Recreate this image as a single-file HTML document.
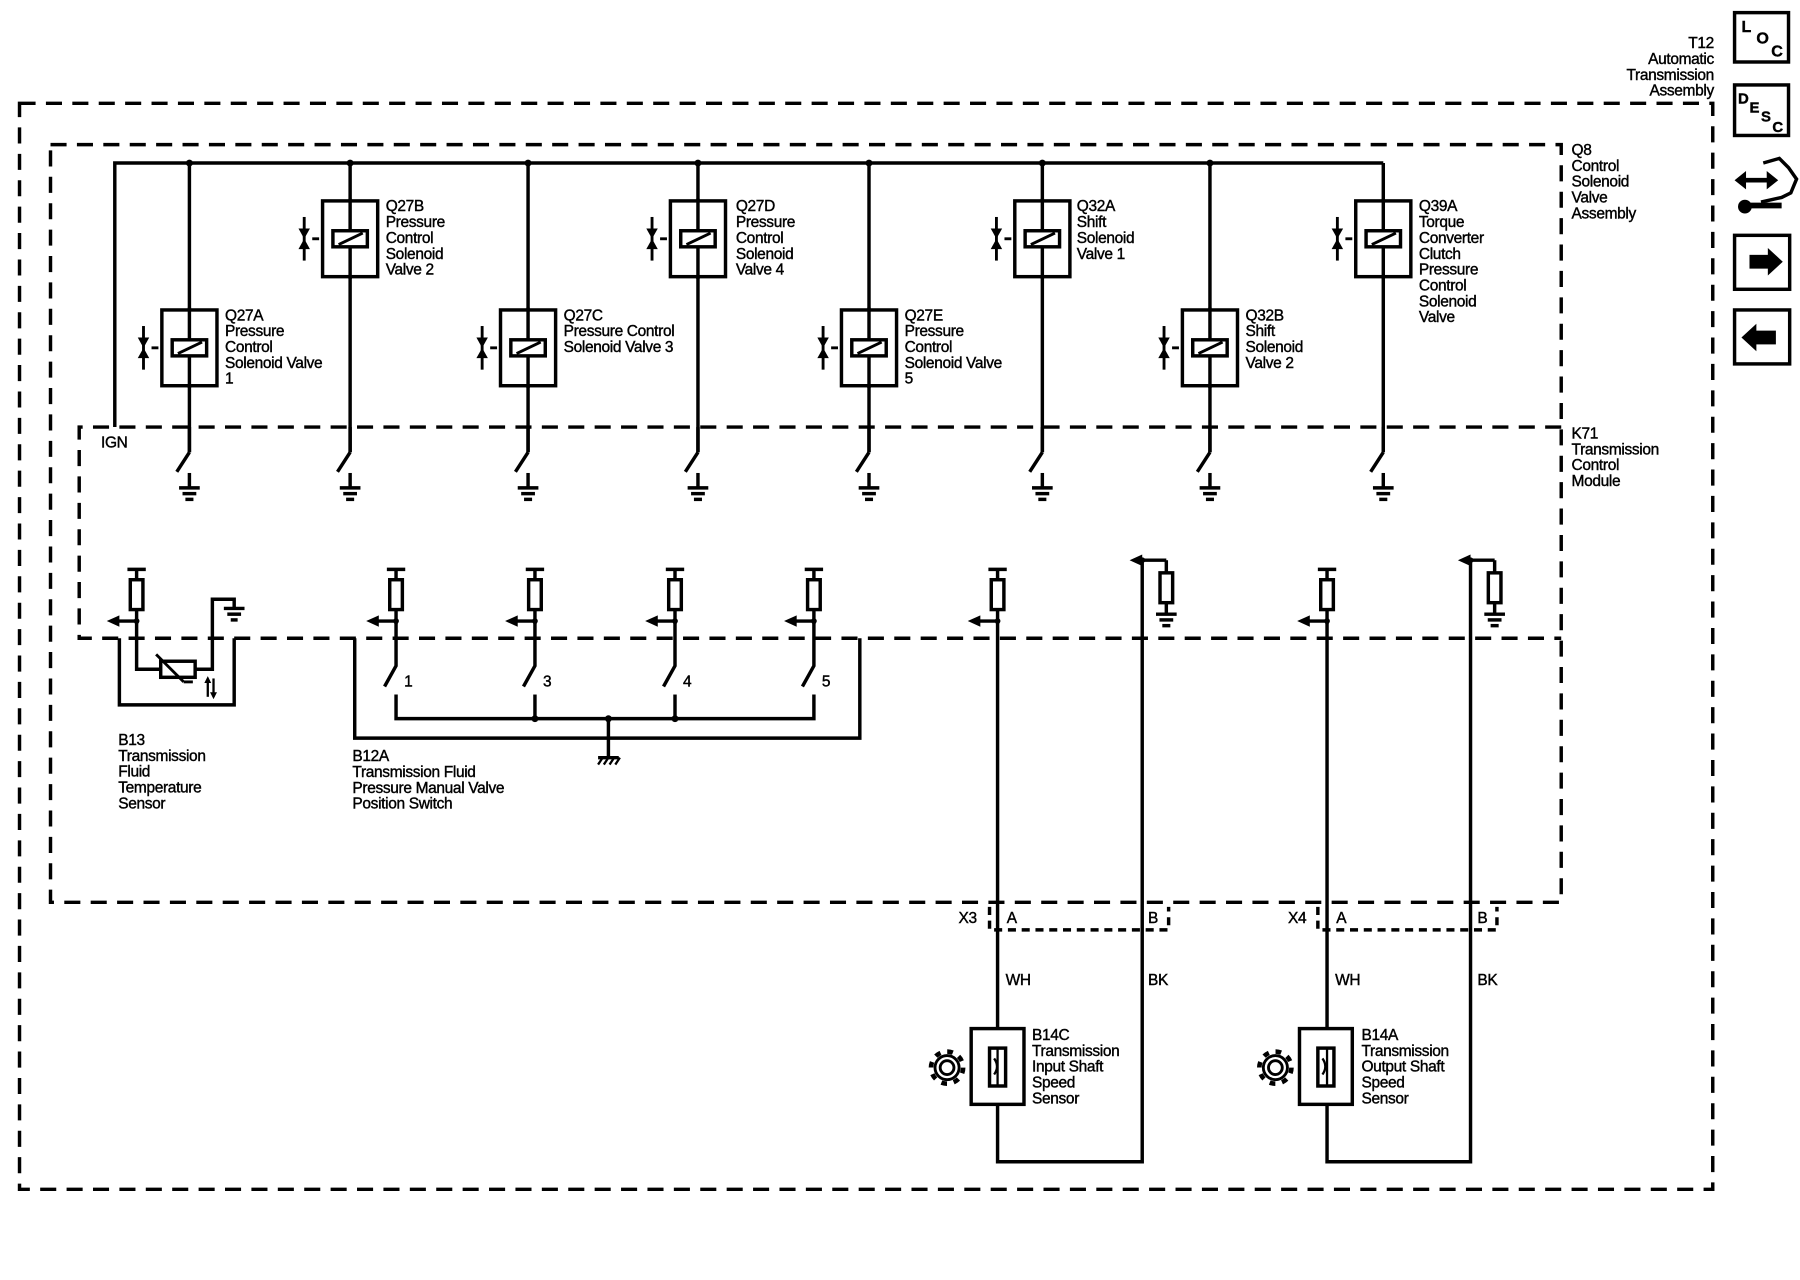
<!DOCTYPE html>
<html><head><meta charset="utf-8"><style>
html,body{margin:0;padding:0;background:#fff;}
svg{display:block;}
text{font-family:"Liberation Sans",sans-serif;font-size:13.5px;fill:#000;letter-spacing:-0.3px;stroke:#000;stroke-width:0.35px;}
</style></head><body>
<svg width="1800" height="1280" viewBox="0 0 1568 1115" preserveAspectRatio="none" xmlns="http://www.w3.org/2000/svg">
<defs>
<g id="sol">
  <rect x="-24" y="0" width="48" height="66" fill="#fff" stroke="#000" stroke-width="3"/>
  <line x1="0" y1="-2" x2="0" y2="68" stroke="#000" stroke-width="3"/>
  <rect x="-15" y="26" width="30" height="14" fill="#fff" stroke="#000" stroke-width="3"/>
  <line x1="-10" y1="38" x2="11" y2="28" stroke="#000" stroke-width="2.5"/>
  <line x1="-33" y1="33" x2="-27" y2="33" stroke="#000" stroke-width="2.5"/>
  <line x1="-40" y1="14" x2="-40" y2="52" stroke="#000" stroke-width="2.5"/>
  <polygon points="-45,24 -35,24 -40,33" fill="#000"/>
  <polygon points="-45,42 -35,42 -40,33" fill="#000"/>
</g>
<g id="gnd">
  <line x1="0" y1="0" x2="0" y2="13" stroke="#000" stroke-width="3"/>
  <line x1="-9" y1="13" x2="9" y2="13" stroke="#000" stroke-width="3"/>
  <line x1="-6" y1="18" x2="6" y2="18" stroke="#000" stroke-width="3"/>
  <line x1="-3.5" y1="23" x2="3.5" y2="23" stroke="#000" stroke-width="3"/>
</g>
<g id="sw">
  <line x1="0" y1="0" x2="0" y2="22" stroke="#000" stroke-width="3"/>
  <line x1="0" y1="22" x2="-11" y2="39" stroke="#000" stroke-width="3"/>
</g>
<g id="pu">
  <line x1="-8" y1="0" x2="8" y2="0" stroke="#000" stroke-width="3"/>
  <line x1="0" y1="0" x2="0" y2="45" stroke="#000" stroke-width="3"/>
  <rect x="-5.5" y="9" width="11" height="26" fill="#fff" stroke="#000" stroke-width="3"/>
  <line x1="0" y1="45" x2="-16" y2="45" stroke="#000" stroke-width="3"/>
  <polygon points="-26,45 -15,40 -15,50" fill="#000"/>
  <circle cx="0" cy="45" r="2.5" fill="#000"/>
</g>
<g id="pd">
  <line x1="-22" y1="0" x2="0" y2="0" stroke="#000" stroke-width="3"/>
  <polygon points="-32,0 -21,-5 -21,5" fill="#000"/>
  <circle cx="-21" cy="0" r="2.5" fill="#000"/>
  <line x1="0" y1="0" x2="0" y2="47" stroke="#000" stroke-width="3"/>
  <rect x="-5.5" y="11" width="11" height="26" fill="#fff" stroke="#000" stroke-width="3"/>
  <line x1="-9" y1="47" x2="9" y2="47" stroke="#000" stroke-width="3"/>
  <line x1="-6" y1="52" x2="6" y2="52" stroke="#000" stroke-width="3"/>
  <line x1="-3.5" y1="57" x2="3.5" y2="57" stroke="#000" stroke-width="3"/>
</g>
<g id="gear">
  <circle cx="0" cy="0" r="14" fill="none" stroke="#000" stroke-width="4" stroke-dasharray="5 6"/>
  <circle cx="0" cy="0" r="10.5" fill="none" stroke="#000" stroke-width="2.5"/>
  <circle cx="0" cy="0" r="6" fill="none" stroke="#000" stroke-width="2.5"/>
</g>
</defs>

<g fill="none" stroke="#000" stroke-width="3" stroke-dasharray="14 9">
  <rect x="17" y="90" width="1475" height="946"/>
  <rect x="44" y="126" width="1316" height="660"/>
  <polyline points="1360,372 69,372 69,556 1360,556"/>
</g>

<g stroke="#000" stroke-width="3" fill="none">
  <polyline points="100,372 100,142 1205,142"/>
  <line x1="165" y1="142" x2="165" y2="394"/>
  <line x1="305" y1="142" x2="305" y2="394"/>
  <line x1="460" y1="142" x2="460" y2="394"/>
  <line x1="608" y1="142" x2="608" y2="394"/>
  <line x1="757" y1="142" x2="757" y2="394"/>
  <line x1="908" y1="142" x2="908" y2="394"/>
  <line x1="1054" y1="142" x2="1054" y2="394"/>
  <line x1="1205" y1="142" x2="1205" y2="394"/>
</g>
<g fill="#000">
  <circle cx="165" cy="142" r="3"/><circle cx="305" cy="142" r="3"/><circle cx="460" cy="142" r="3"/><circle cx="608" cy="142" r="3"/>
  <circle cx="757" cy="142" r="3"/><circle cx="908" cy="142" r="3"/><circle cx="1054" cy="142" r="3"/>
</g>

<use href="#sol" x="165" y="270"/>
<use href="#sol" x="305" y="175"/>
<use href="#sol" x="460" y="270"/>
<use href="#sol" x="608" y="175"/>
<use href="#sol" x="757" y="270"/>
<use href="#sol" x="908" y="175"/>
<use href="#sol" x="1054" y="270"/>
<use href="#sol" x="1205" y="175"/>

<g>
  <use href="#sw" x="165" y="372"/><use href="#gnd" x="165" y="412"/>
  <use href="#sw" x="305" y="372"/><use href="#gnd" x="305" y="412"/>
  <use href="#sw" x="460" y="372"/><use href="#gnd" x="460" y="412"/>
  <use href="#sw" x="608" y="372"/><use href="#gnd" x="608" y="412"/>
  <use href="#sw" x="757" y="372"/><use href="#gnd" x="757" y="412"/>
  <use href="#sw" x="908" y="372"/><use href="#gnd" x="908" y="412"/>
  <use href="#sw" x="1054" y="372"/><use href="#gnd" x="1054" y="412"/>
  <use href="#sw" x="1205" y="372"/><use href="#gnd" x="1205" y="412"/>
</g>

<text x="196" y="279">Q27A<tspan x="196" dy="13.8">Pressure</tspan><tspan x="196" dy="13.8">Control</tspan><tspan x="196" dy="13.8">Solenoid Valve</tspan><tspan x="196" dy="13.8">1</tspan></text>
<text x="336" y="184">Q27B<tspan x="336" dy="13.8">Pressure</tspan><tspan x="336" dy="13.8">Control</tspan><tspan x="336" dy="13.8">Solenoid</tspan><tspan x="336" dy="13.8">Valve 2</tspan></text>
<text x="491" y="279">Q27C<tspan x="491" dy="13.8">Pressure Control</tspan><tspan x="491" dy="13.8">Solenoid Valve 3</tspan></text>
<text x="641" y="184">Q27D<tspan x="641" dy="13.8">Pressure</tspan><tspan x="641" dy="13.8">Control</tspan><tspan x="641" dy="13.8">Solenoid</tspan><tspan x="641" dy="13.8">Valve 4</tspan></text>
<text x="788" y="279">Q27E<tspan x="788" dy="13.8">Pressure</tspan><tspan x="788" dy="13.8">Control</tspan><tspan x="788" dy="13.8">Solenoid Valve</tspan><tspan x="788" dy="13.8">5</tspan></text>
<text x="938" y="184">Q32A<tspan x="938" dy="13.8">Shift</tspan><tspan x="938" dy="13.8">Solenoid</tspan><tspan x="938" dy="13.8">Valve 1</tspan></text>
<text x="1085" y="279">Q32B<tspan x="1085" dy="13.8">Shift</tspan><tspan x="1085" dy="13.8">Solenoid</tspan><tspan x="1085" dy="13.8">Valve 2</tspan></text>
<text x="1236" y="184">Q39A<tspan x="1236" dy="13.8">Torque</tspan><tspan x="1236" dy="13.8">Converter</tspan><tspan x="1236" dy="13.8">Clutch</tspan><tspan x="1236" dy="13.8">Pressure</tspan><tspan x="1236" dy="13.8">Control</tspan><tspan x="1236" dy="13.8">Solenoid</tspan><tspan x="1236" dy="13.8">Valve</tspan></text>
<text x="88" y="390">IGN</text>

<text x="1369" y="135">Q8<tspan x="1369" dy="13.8">Control</tspan><tspan x="1369" dy="13.8">Solenoid</tspan><tspan x="1369" dy="13.8">Valve</tspan><tspan x="1369" dy="13.8">Assembly</tspan></text>
<text x="1369" y="382">K71<tspan x="1369" dy="13.8">Transmission</tspan><tspan x="1369" dy="13.8">Control</tspan><tspan x="1369" dy="13.8">Module</tspan></text>
<text x="1493" y="42" text-anchor="end">T12<tspan x="1493" dy="13.8">Automatic</tspan><tspan x="1493" dy="13.8">Transmission</tspan><tspan x="1493" dy="13.8">Assembly</tspan></text>

<use href="#pu" x="119" y="496"/>
<use href="#pu" x="345" y="496"/>
<use href="#pu" x="466" y="496"/>
<use href="#pu" x="588" y="496"/>
<use href="#pu" x="709" y="496"/>
<use href="#pu" x="869" y="496"/>
<use href="#pu" x="1156" y="496"/>
<use href="#pd" x="1016" y="488"/>
<use href="#pd" x="1302" y="488"/>

<g stroke="#000" stroke-width="3" fill="none">
  <polyline points="104,556 104,614 204,614 204,556"/>
  <polyline points="119,541 119,583 140,583"/>
  <rect x="140" y="576" width="30" height="14" fill="#fff"/>
  <line x1="136" y1="570" x2="160" y2="594" stroke-width="2.5"/>
  <polyline points="160,594 168,594" stroke-width="2.5"/>
  <polyline points="170,583 185,583 185,522 204,522 204,530"/>
  <line x1="195" y1="530" x2="213" y2="530"/>
  <line x1="198" y1="535" x2="210" y2="535"/>
  <line x1="201" y1="540" x2="207" y2="540"/>
  <polyline points="309,556 309,643 749,643 749,556"/>
  <polyline points="345,541 345,580 335,598"/>
  <polyline points="466,541 466,580 456,598"/>
  <polyline points="588,541 588,580 578,598"/>
  <polyline points="709,541 709,580 699,598"/>
  <polyline points="345,605 345,626 709,626 709,605"/>
  <line x1="466" y1="605" x2="466" y2="626"/>
  <line x1="588" y1="605" x2="588" y2="626"/>
  <line x1="530" y1="626" x2="530" y2="660"/>
  <line x1="521" y1="660" x2="539" y2="660"/>
  <polyline points="869,541 869,1012 995,1012 995,488"/>
  <polyline points="1156,541 1156,1012 1281,1012 1281,488"/>
  <rect x="846" y="896" width="46" height="66" fill="#fff"/>
  <rect x="862" y="913" width="14" height="33" fill="#fff"/>
  <rect x="1132" y="896" width="46" height="66" fill="#fff"/>
  <rect x="1148" y="913" width="14" height="33" fill="#fff"/>
</g>
<g stroke="#000" stroke-width="2" fill="none">
  <line x1="525" y1="660" x2="521" y2="666"/><line x1="530" y1="660" x2="526" y2="666"/><line x1="535" y1="660" x2="531" y2="666"/><line x1="540" y1="660" x2="536" y2="666"/>
  <line x1="181" y1="607" x2="181" y2="591"/><line x1="186" y1="591" x2="186" y2="607"/>
  <line x1="869" y1="913" x2="869" y2="946"/><path d="M866,922 q5,7 0,14"/>
  <line x1="1156" y1="913" x2="1156" y2="946"/><path d="M1152,922 q5,7 0,14"/>
</g>
<g fill="#000">
  <polygon points="181,589 178,595 184,595"/><polygon points="186,609 183,603 189,603"/>
  <circle cx="466" cy="626" r="3"/><circle cx="588" cy="626" r="3"/><circle cx="530" cy="626" r="3"/>
</g>
<text x="352" y="598">1</text><text x="473" y="598">3</text><text x="595" y="598">4</text><text x="716" y="598">5</text>

<text x="103" y="649">B13<tspan x="103" dy="13.8">Transmission</tspan><tspan x="103" dy="13.8">Fluid</tspan><tspan x="103" dy="13.8">Temperature</tspan><tspan x="103" dy="13.8">Sensor</tspan></text>
<text x="307" y="663">B12A<tspan x="307" dy="13.8">Transmission Fluid</tspan><tspan x="307" dy="13.8">Pressure Manual Valve</tspan><tspan x="307" dy="13.8">Position Switch</tspan></text>

<g fill="none" stroke="#000" stroke-width="3" stroke-dasharray="7 5">
  <polyline points="862,790 862,810 1018,810 1018,790"/>
  <polyline points="1148,790 1148,810 1304,810 1304,790"/>
</g>
<text x="835" y="804">X3</text><text x="877" y="804">A</text><text x="1000" y="804">B</text>
<text x="1122" y="804">X4</text><text x="1164" y="804">A</text><text x="1287" y="804">B</text>
<text x="876" y="858">WH</text><text x="1000" y="858">BK</text>
<text x="1163" y="858">WH</text><text x="1287" y="858">BK</text>

<use href="#gear" x="825" y="930"/>
<use href="#gear" x="1111" y="930"/>
<text x="899" y="906">B14C<tspan x="899" dy="13.8">Transmission</tspan><tspan x="899" dy="13.8">Input Shaft</tspan><tspan x="899" dy="13.8">Speed</tspan><tspan x="899" dy="13.8">Sensor</tspan></text>
<text x="1186" y="906">B14A<tspan x="1186" dy="13.8">Transmission</tspan><tspan x="1186" dy="13.8">Output Shaft</tspan><tspan x="1186" dy="13.8">Speed</tspan><tspan x="1186" dy="13.8">Sensor</tspan></text>

<g fill="none" stroke="#000" stroke-width="3">
  <rect x="1511" y="11" width="47" height="43"/>
  <rect x="1511" y="74" width="47" height="44"/>
  <rect x="1511" y="205" width="48" height="47"/>
  <rect x="1511" y="270" width="48" height="47"/>
</g>
<text x="1517" y="28" style="font-size:14px;font-weight:bold">L</text><text x="1530" y="38" style="font-size:14px;font-weight:bold">O</text><text x="1543" y="49" style="font-size:14px;font-weight:bold">C</text>
<text x="1514" y="90" style="font-size:13px;font-weight:bold">D</text><text x="1524" y="98" style="font-size:13px;font-weight:bold">E</text><text x="1534" y="106" style="font-size:13px;font-weight:bold">S</text><text x="1544" y="115" style="font-size:13px;font-weight:bold">C</text>
<g fill="#000" stroke="#000">
  <line x1="1518" y1="157" x2="1542" y2="157" stroke-width="4"/>
  <polygon points="1511,157 1521,149 1521,165" stroke="none"/>
  <polygon points="1549,157 1539,149 1539,165" stroke="none"/>
  <path d="M1536,142 l14,-4 l8,8 l7,10 l-5,12 l-8,4 l-18,4" fill="none" stroke-width="3"/>
  <line x1="1524" y1="179" x2="1552" y2="179" stroke-width="5"/>
  <circle cx="1520" cy="180" r="6" stroke="none"/>
  <rect x="1524" y="222" width="18" height="12" stroke="none"/>
  <polygon points="1540,216 1553,228 1540,240" stroke="none"/>
  <rect x="1529" y="288" width="18" height="12" stroke="none"/>
  <polygon points="1530,282 1517,294 1530,306" stroke="none"/>
</g>
</svg>
</body></html>
